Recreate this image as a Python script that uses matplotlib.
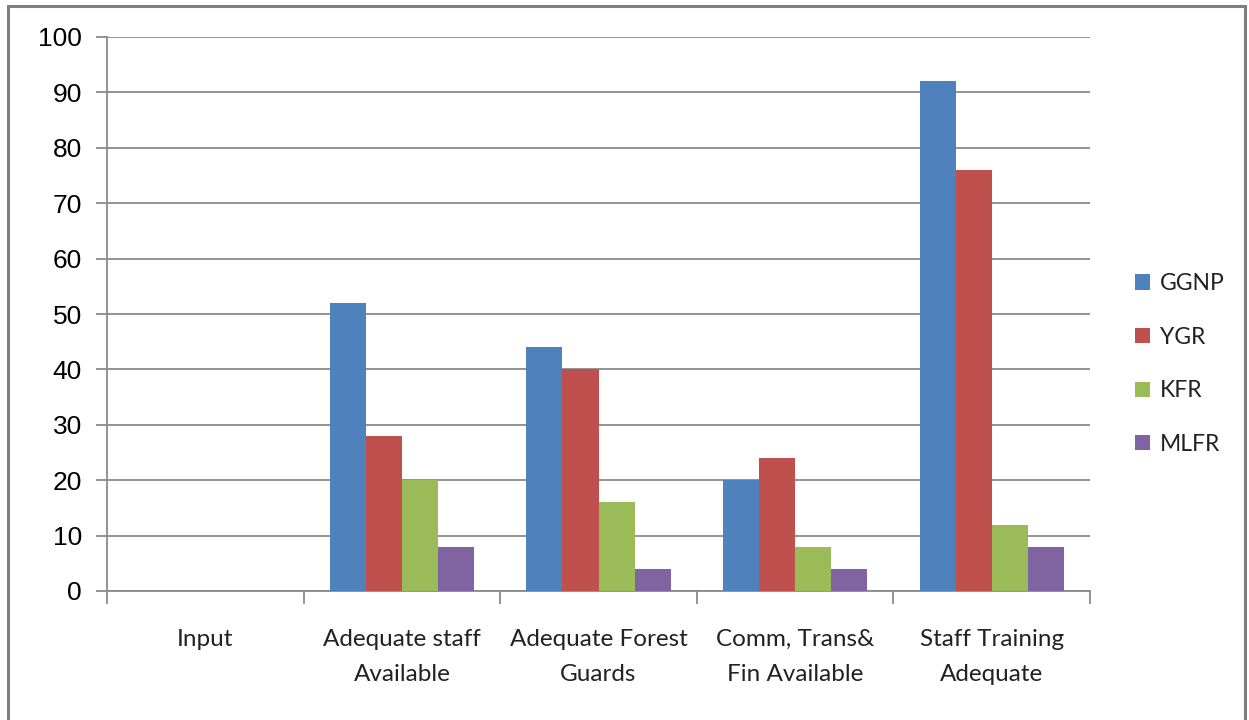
import matplotlib
matplotlib.use("Agg")
import matplotlib.pyplot as plt
from matplotlib.patches import Patch, Rectangle
import numpy as np

categories = ["Input", "Adequate staff\nAvailable", "Adequate Forest\nGuards",
              "Comm, Trans&\nFin Available", "Staff Training\nAdequate"]
series_names = ["GGNP", "YGR", "KFR", "MLFR"]
ggnp = [0, 52, 44, 20, 92]
ygr = [0, 28, 40, 24, 76]
kfr = [0, 20, 16, 8, 12]
mlfr = [0, 8, 4, 4, 8]
y_ticks = [0, 10, 20, 30, 40, 50, 60, 70, 80, 90, 100]

colors = ["#4F81BD", "#C0504D", "#9BBB59", "#8064A2"]
values = [ggnp, ygr, kfr, mlfr]

W, H = 1249, 720
fig = plt.figure(figsize=(W / 100, H / 100), dpi=100)
fig.patch.set_facecolor("white")

# outer chart-area frame
fig.add_artist(Rectangle((8 / W, -0.05), (1245 - 8) / W, 1.05 - 6 / H,
                         transform=fig.transFigure, fill=False,
                         edgecolor="#7f7f7f", linewidth=2.2))

ax = fig.add_axes([107 / W, 1 - 591 / H, (1090 - 107) / W, (591 - 37) / H])

n = len(categories)
x = np.arange(n)
bw = 1 / (4 + 1.46)
for i, (name, vals, c) in enumerate(zip(series_names, values, colors)):
    ax.bar(x + (i - 1.5) * bw, vals, width=bw, color=c, label=name,
           zorder=3, linewidth=0)

ax.set_xlim(-0.5, n - 0.5)
ax.set_ylim(0, 100)
ax.set_yticks(y_ticks)
ax.set_yticklabels([str(t) for t in y_ticks], fontsize=19,
                   family="Liberation Sans")
ax.yaxis.grid(True, color="#8a8a8a", linewidth=1.3, zorder=0)
ax.set_axisbelow(True)

# category labels centred, ticks on category boundaries
ax.set_xticks(x)
ax.set_xticklabels(categories, fontsize=17.5, family="Lato", color="#222222",
                   linespacing=1.85)
ax.tick_params(axis="x", length=0, pad=27)
ax.set_xticks(np.arange(-0.5, n, 1.0), minor=True)
ax.tick_params(axis="x", which="minor", length=9, color="#8a8a8a", width=1.3)
ax.tick_params(axis="y", length=8, color="#8a8a8a", width=1.3, pad=10)

for s in ["top", "right"]:
    ax.spines[s].set_visible(False)
for s in ["left", "bottom"]:
    ax.spines[s].set_color("#8a8a8a")
    ax.spines[s].set_linewidth(1.3)

handles = [Patch(facecolor=c, edgecolor="none") for c in colors]
leg = fig.legend(handles, series_names, loc="center left",
                 bbox_to_anchor=(1114 / W, 1 - 364 / H), frameon=False,
                 prop={"family": "Lato", "size": 16.5},
                 handlelength=0.65, handleheight=0.65, handletextpad=0.45,
                 labelspacing=1.42)
for t in leg.get_texts():
    t.set_color("#222222")

fig.savefig("out.png", dpi=100, facecolor="white")
